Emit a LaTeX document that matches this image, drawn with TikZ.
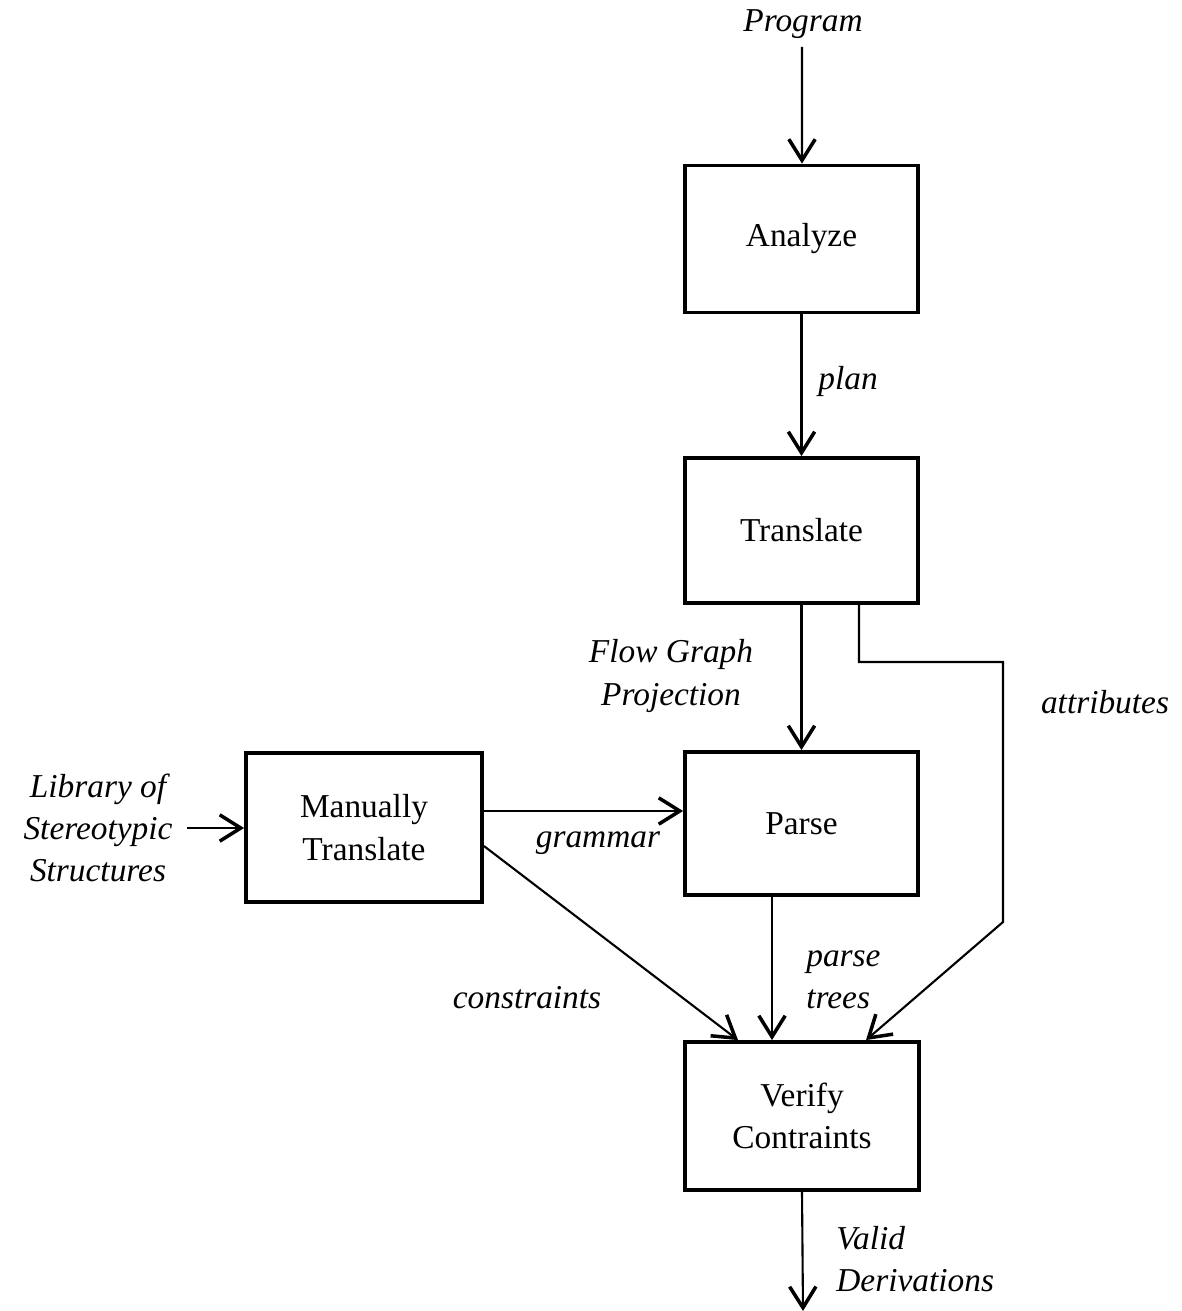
\documentclass[tikz,border=0pt]{standalone}
\usepackage{fontspec}
\setmainfont{Liberation Serif}
\usetikzlibrary{arrows.meta,calc}
\begin{document}
\begin{tikzpicture}[x=0.02cm,y=-0.02cm,
  every node/.style={font=\fontsize{19}{24}\selectfont},
  box/.style={draw,line width=2.2pt,minimum width=4.66cm,minimum height=2.94cm,align=center,inner sep=0pt},
  lbl/.style={font=\fontsize{19}{24}\selectfont\itshape,inner sep=0pt},
  arr/.style={line width=1.2pt,-{Straight Barb[length=12pt,width=15pt,line width=2pt]}}]
\useasboundingbox (0,0) rectangle (1182,1311);

% process boxes
\node[box] (an) at (801.5,239) {Analyze};
\node[box,minimum height=2.9cm] (tr) at (801.5,530.5) {Translate};
\node[box,minimum height=2.86cm] (pa) at (801.5,823.5) {Parse};
\node[box,minimum width=4.72cm,minimum height=2.98cm] (mt) at (364,827.5) {Manually\\Translate};
\node[box,minimum width=4.68cm,minimum height=2.96cm] (vc) at (802,1116) {Verify\\Contraints};

% inputs and outputs
\node[lbl] (prog) at (803,24) {Program};
\node[lbl,align=center,inner xsep=8pt] (lib) at (98,828) {Library of\\Stereotypic\\Structures};
\coordinate (out) at (803,1311);

% main flow
\draw[arr] ($(prog.south)+(-1,8)$) -- ($(an.north)+(0.5,0)$);
\draw[arr] (an.south) -- (tr.north);
\draw[arr] (tr.south) -- (pa.north);
\draw[arr] (vc.south) -- (out);
\draw[arr] (lib.east) -- (lib.east -| mt.west);

% grammar, constraints and parse trees
\coordinate (g1) at ($(mt.east)+(0,-16.5)$);
\draw[arr] (g1) -- (g1 -| pa.west);
\draw[arr] ($(mt.east)+(0,18.5)$) -- ($(vc.north)+(-64,0)$);
\coordinate (p1) at ($(pa.south)+(-29.5,0)$);
\draw[arr] (p1) -- (p1 |- vc.north);

% attributes path around the parser
\coordinate (a1) at ($(tr.south)+(57.5,0)$);
\coordinate (a2) at (1003,662);
\coordinate (a3) at (1003,922);
\draw[arr] (a1) |- (a2) -- (a3) -- ($(vc.north)+(64,0)$);

% edge labels
\node[lbl] (lplan) at (848,381) {plan};
\node[lbl,align=center] (lflow) at (671,676) {Flow Graph\\Projection};
\node[lbl] (lattr) at (1105,702) {attributes};
\node[lbl] (lgram) at (598,843) {grammar};
\node[lbl] (lcons) at (527,998) {constraints};
\node[lbl,align=left,anchor=west] (lparse) at (806,980) {parse\\trees};
\node[lbl,align=left,anchor=west] (lvalid) at (836,1259) {Valid\\Derivations};
\end{tikzpicture}
\end{document}
